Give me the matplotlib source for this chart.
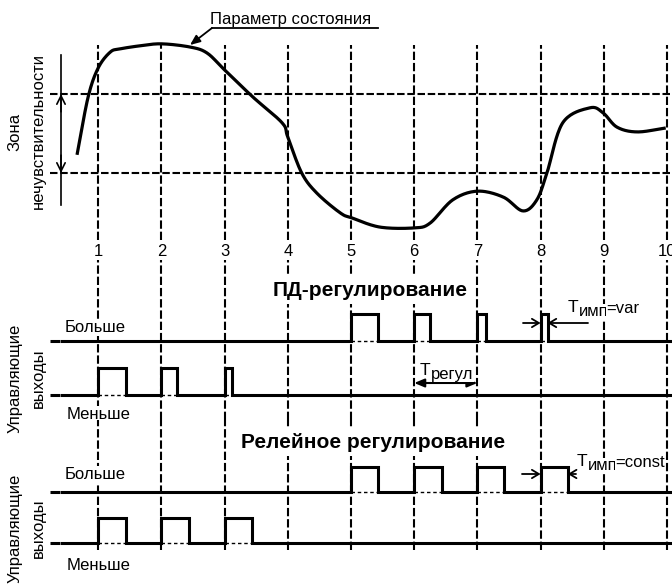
import numpy as np
import matplotlib
matplotlib.use("Agg")
import matplotlib.pyplot as plt

plt.rcParams['font.family'] = ['Liberation Sans', 'DejaVu Sans']

# ---- data ----
marks = [1, 2, 3, 4, 5, 6, 7, 8, 9, 10]
mark_labels = ["1", "2", "3", "4", "5", "6", "7", "8", "9", "10"]
zone = [-1.0, 1.0]

curve_t = [0.665, 0.84, 1.0, 1.19, 1.34, 1.66, 2.0, 2.45, 2.72, 3.0, 3.45, 3.91, 4.0,
           4.22, 4.46, 4.83, 5.02, 5.46, 6.0, 6.25, 6.61, 7.0, 7.41, 7.72, 7.94, 8.1,
           8.35, 8.78, 8.99, 9.21, 9.53, 9.98]
curve_y = [-0.54, 0.92, 1.66, 2.06, 2.14, 2.22, 2.27, 2.19, 2.04, 1.61, 0.92, 0.27, -0.09,
           -1.0, -1.51, -2.01, -2.14, -2.37, -2.39, -2.27, -1.68, -1.46, -1.61, -1.96, -1.68, -1.0,
           0.27, 0.65, 0.52, 0.16, 0.04, 0.14]

pd_more_start = [5, 6, 7, 8]
pd_more_width = [0.43, 0.25, 0.14, 0.11]
pd_less_start = [1, 2, 3]
pd_less_width = [0.44, 0.25, 0.11]

rel_more_start = [5, 6, 7, 8]
rel_more_width = [0.43, 0.44, 0.42, 0.43]
rel_less_start = [1, 2, 3]
rel_less_width = [0.44, 0.44, 0.43]

# ---- layout ----
W, H = 672, 584
px_unit = 63.2
x0_px = 35
xlim = (-x0_px / px_unit, (W - x0_px) / px_unit)

def t_of(px):
    return (px - x0_px) / px_unit

fig = plt.figure(figsize=(W / 100, H / 100), dpi=100)

def make_ax(top_px, bot_px):
    ax = fig.add_axes([0, 1 - bot_px / H, 1, (bot_px - top_px) / H])
    ax.set_xlim(*xlim)
    ax.axis('off')
    ax.patch.set_visible(False)
    return ax

FS = 12
white = dict(fc='white', ec='none', pad=1.0)
vdash = (0, (4, 1.4))
hdash = (0, (3.6, 1.3))

# ---- top panel: state parameter ----
top_scale = 39.5
top_mid = 133.5
ax1 = make_ax(0, 260)
ax1.set_ylim((top_mid - 260) / top_scale, top_mid / top_scale)

def y_top(py):
    return (top_mid - py) / top_scale

ax1.vlines(marks, y_top(240), y_top(45), colors='black', lw=1.5, linestyles=vdash)
ax1.hlines(zone, t_of(50), xlim[1], colors='black', lw=1.5, linestyles=hdash)


def catmull_rom(xs, ys, n=20):
    p = np.column_stack([xs, ys])
    p = np.vstack([2 * p[0] - p[1], p, 2 * p[-1] - p[-2]])
    s = np.linspace(0, 1, n, endpoint=False)[:, None]
    out = []
    for i in range(1, len(p) - 2):
        p0, p1, p2, p3 = p[i - 1], p[i], p[i + 1], p[i + 2]
        out.append(0.5 * (2 * p1 + (-p0 + p2) * s + (2 * p0 - 5 * p1 + 4 * p2 - p3) * s ** 2
                          + (-p0 + 3 * p1 - 3 * p2 + p3) * s ** 3))
    out.append(p[-2][None])
    out = np.vstack(out)
    return out[:, 0], out[:, 1]


cx, cy = catmull_rom(curve_t, curve_y)
ax1.plot(cx, cy, color='black', lw=2.3, solid_capstyle='butt', zorder=4)

for m, lab in zip(marks, mark_labels):
    ax1.text(m, y_top(251), lab, ha='center', va='center', fontsize=FS)

# zone of insensitivity arrows
zx = t_of(61)
ax1.plot([zx, zx], [y_top(55), y_top(205)], color='black', lw=1.2)
for z, d in zip(zone, [-0.45, 0.45]):
    ax1.annotate('', xy=(zx, z), xytext=(zx, z - d),
                 arrowprops=dict(arrowstyle='->,head_length=0.6,head_width=0.3', lw=1.2,
                                 color='black', shrinkA=0, shrinkB=0))
ax1.text(t_of(15), y_top(132), "Зона", rotation=90, ha='center', va='center', fontsize=FS)
ax1.text(t_of(38), y_top(131), "нечувствительности", rotation=90, ha='center', va='center',
         fontsize=FS)

# label "Параметр состояния"
ax1.text(t_of(210), y_top(24), "Параметр состояния", ha='left', va='baseline', fontsize=FS)
ax1.plot([t_of(212), t_of(378)], [y_top(28), y_top(28)], color='black', lw=1.3)
ax1.annotate('', xy=(t_of(190), y_top(45)), xytext=(t_of(212), y_top(28)),
             arrowprops=dict(arrowstyle='-|>,head_length=0.6,head_width=0.25', lw=1.3,
                             color='black', shrinkA=0, shrinkB=0))


# ---- pulse panels ----
def pulse_wave(starts, widths, base, height, t0, t1):
    xs, ys = [t0], [base]
    for s, w in zip(starts, widths):
        xs += [s, s, s + w, s + w]
        ys += [base, base + height, base + height, base]
    xs.append(t1)
    ys.append(base)
    return xs, ys


def draw_channel(ax, starts, widths, base):
    ax.plot([t_of(50), t_of(60)], [base, base], color='black', lw=2.2, solid_capstyle='butt')
    xs, ys = pulse_wave(starts, widths, base, 1.0, t_of(62), xlim[1])
    ax.plot(xs, ys, color='black', lw=2.2, solid_joinstyle='miter', zorder=4)
    for s, w in zip(starts, widths):
        ax.plot([s, s + w], [base, base], color='black', lw=1.0, linestyle=(0, (2.5, 2)))


nobox = dict(fc='white', ec='none', pad=0.3)


def sub_label(ax, x, y, sub, rest):
    t = ax.text(x, y, "Т", ha='left', va='baseline', fontsize=FS + 0.5, bbox=nobox, zorder=6)
    s = ax.annotate(sub, xy=(1, 0), xycoords=t, xytext=(0.3, -3), textcoords='offset points',
                    ha='left', va='bottom', fontsize=FS, bbox=nobox, zorder=5)
    if rest:
        ax.annotate(rest, xy=(1, 0), xycoords=s, xytext=(-1.8, 2.5), textcoords='offset points',
                    ha='left', va='bottom', fontsize=FS, bbox=nobox, zorder=5)


def side_labels(ax, y_center, y_more, y_less):
    ax.text(t_of(15), y_center, "Управляющие", rotation=90, ha='center', va='center', fontsize=FS)
    ax.text(t_of(38), y_center, "выходы", rotation=90, ha='center', va='center', fontsize=FS)
    ax.text(t_of(65), y_more, "Больше", ha='left', va='baseline', fontsize=FS, bbox=white)
    ax.text(t_of(67), y_less, "Меньше", ha='left', va='baseline', fontsize=FS, bbox=white)


# PD regulation
pd_scale = 27.0
pd_base = 395
ax2 = make_ax(260, 420)
ax2.set_ylim((pd_base - 420) / pd_scale, (pd_base - 260) / pd_scale)

def y_pd(py):
    return (pd_base - py) / pd_scale

ax2.vlines(marks, y_pd(420), y_pd(260), colors='black', lw=1.5, linestyles=vdash)
draw_channel(ax2, pd_more_start, pd_more_width, 2.0)
draw_channel(ax2, pd_less_start, pd_less_width, 0.0)
ax2.text(t_of(370), y_pd(290), "ПД-регулирование", ha='center', va='center', fontsize=15,
         fontweight='bold', bbox=dict(fc='white', ec='none', pad=3))
side_labels(ax2, y_pd(378), y_pd(332), y_pd(419))
sub_label(ax2, t_of(568), y_pd(312), "имп", "=var")
ax2.annotate('', xy=(pd_more_start[-1], y_pd(323)), xytext=(t_of(523), y_pd(323)),
             arrowprops=dict(arrowstyle='->,head_length=0.5,head_width=0.3', lw=1.3,
                             color='black', shrinkA=0, shrinkB=0))
ax2.annotate('', xy=(pd_more_start[-1] + pd_more_width[-1], y_pd(323)),
             xytext=(t_of(588), y_pd(323)),
             arrowprops=dict(arrowstyle='->,head_length=0.5,head_width=0.3', lw=1.3,
                             color='black', shrinkA=0, shrinkB=0))
sub_label(ax2, t_of(420), y_pd(375), "регул", "")
ax2.annotate('', xy=(6, y_pd(383)), xytext=(7, y_pd(383)),
             arrowprops=dict(arrowstyle='<|-|>,head_length=0.6,head_width=0.25', lw=1.5,
                             color='black', shrinkA=0, shrinkB=0))

# relay regulation
rel_scale = 25.5
rel_base = 543
ax3 = make_ax(420, 584)
ax3.set_ylim((rel_base - 584) / rel_scale, (rel_base - 420) / rel_scale)

def y_rel(py):
    return (rel_base - py) / rel_scale

ax3.vlines(marks, y_rel(550), y_rel(420), colors='black', lw=1.5, linestyles=vdash)
draw_channel(ax3, rel_more_start, rel_more_width, 2.0)
draw_channel(ax3, rel_less_start, rel_less_width, 0.0)
ax3.text(t_of(373), y_rel(442), "Релейное регулирование", ha='center', va='center',
         fontsize=15, fontweight='bold', bbox=dict(fc='white', ec='none', pad=3))
side_labels(ax3, y_rel(528), y_rel(479), y_rel(570))
sub_label(ax3, t_of(577), y_rel(466), "имп", "=const")
ax3.annotate('', xy=(rel_more_start[-1], y_rel(474)), xytext=(t_of(522), y_rel(474)),
             arrowprops=dict(arrowstyle='->,head_length=0.5,head_width=0.3', lw=1.3,
                             color='black', shrinkA=0, shrinkB=0))
ax3.annotate('', xy=(rel_more_start[-1] + rel_more_width[-1], y_rel(474)),
             xytext=(t_of(576), y_rel(474)),
             arrowprops=dict(arrowstyle='->,head_length=0.5,head_width=0.3', lw=1.3,
                             color='black', shrinkA=0, shrinkB=0))

fig.savefig("out.png", dpi=100, facecolor='white')
